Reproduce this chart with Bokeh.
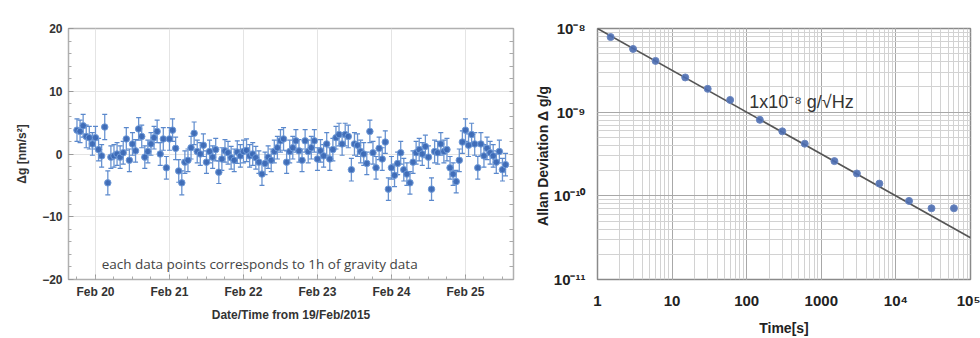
import pandas as pd
from bokeh.plotting import figure
from bokeh.layouts import row
from bokeh.models import (ColumnDataSource, Whisker, TeeHead, Range1d, FixedTicker,
                          LinearAxis, Label, DatetimeTickFormatter, CustomJSTickFormatter,
                          LogTicker)
from bokeh.embed import file_html
from bokeh.resources import INLINE

# ---------------- data: left panel (hourly gravity residuals) ----------------
start_time = "2015-02-19 18:00"
dg = [3.8, 3.6, 4.5, 2.8, 2.6, 1.6, 2.6, 0.7, -0.3, 4.3,
      -4.6, -0.5, -0.3, 0.0, -0.5, 0.2, 2.4, -1.0, 1.6, 0.5,
      4.0, 2.8, -0.5, 0.4, 1.6, 2.6, 3.6, 0.0, 2.4, -2.2,
      2.4, 3.8, 0.9, -2.7, -4.6, -1.3, -1.0, 1.0, 3.3, 0.4,
      0.0, 1.4, -1.3, 0.4, -0.5, 0.7, -2.9, -0.8, 0.5, 0.2,
      -0.6, -1.0, 0.3, -0.3, 0.4, 0.6, -0.3, 0.0, -0.6, -1.3,
      -3.2, -1.5, -0.5, -1.0, 0.4, 1.0, 2.1, 2.4, -1.3, 0.4,
      1.0, 2.1, 0.5, -1.0, 2.1, 0.4, 1.0, 2.1, -0.8, 0.5,
      -0.3, 1.6, -0.8, 0.7, 2.6, 3.1, 1.6, 3.1, 2.8, -2.5,
      1.6, 1.4, 0.4, 0.0, -1.5, 3.6, 0.2, -2.2, 0.9, -0.8,
      1.9, -5.6, -2.2, -3.4, -1.5, 0.2, -2.5, -3.2, -4.6, -1.3,
      0.2, 0.7, 0.0, 1.2, -0.5, -5.6, 0.4, 0.2, 1.6, 0.4,
      0.7, -2.2, -3.2, -4.4, -1.0, 1.9, 3.8, 1.4, 3.1, 1.6,
      -2.2, 1.6, -0.3, 0.9, 0.2, -0.3, -1.3, 0.4, -2.5, -1.7]
dg_err = [1.8, 1.8, 1.8, 1.8, 1.8, 1.8, 1.8, 1.8, 1.8, 2.0,
          1.9, 1.8, 1.8, 1.8, 1.8, 1.8, 1.8, 1.8, 1.8, 1.8,
          1.8, 1.8, 1.8, 1.8, 1.8, 1.8, 1.8, 1.8, 1.8, 1.8,
          1.8, 1.8, 1.8, 1.8, 1.9, 1.8, 1.8, 1.8, 1.8, 1.8,
          1.8, 1.8, 1.8, 1.8, 1.8, 1.8, 1.8, 1.8, 1.8, 1.8,
          1.8, 1.8, 1.8, 1.8, 1.8, 1.8, 1.8, 1.8, 1.8, 1.8,
          1.8, 1.8, 1.8, 1.8, 1.8, 1.8, 1.8, 1.8, 1.8, 1.8,
          1.8, 1.8, 1.8, 1.8, 1.8, 1.8, 1.8, 1.8, 1.8, 1.8,
          1.8, 1.8, 1.8, 1.8, 1.8, 1.8, 1.8, 1.8, 1.8, 1.8,
          1.8, 1.8, 1.8, 1.8, 1.8, 1.8, 1.8, 1.8, 1.8, 1.8,
          1.8, 1.8, 1.8, 1.8, 1.8, 1.8, 1.8, 1.8, 1.8, 1.8,
          1.8, 1.8, 1.8, 1.8, 1.8, 1.8, 1.8, 1.8, 1.8, 1.8,
          1.8, 1.8, 1.8, 1.8, 1.8, 1.8, 1.8, 1.8, 1.8, 1.8,
          1.8, 1.8, 1.8, 1.8, 1.8, 1.8, 1.8, 1.8, 1.8, 1.8]
day_ticks = ["2015-02-20", "2015-02-21", "2015-02-22", "2015-02-23", "2015-02-24", "2015-02-25"]
y_ticks_left = [-20, -10, 0, 10, 20]
y_minor_left = [-18, -16, -14, -12, -8, -6, -4, -2, 2, 4, 6, 8, 12, 14, 16, 18]

# ---------------- data: right panel (Allan deviation) ----------------
tau = [1.5, 3, 6, 15, 30, 60, 150, 300, 600, 1500, 3000, 6000, 15000, 30000, 60000]
adev = [7.9e-9, 5.7e-9, 4.1e-9, 2.6e-9, 1.9e-9, 1.4e-9, 8.1e-10, 5.9e-10, 4.2e-10,
        2.6e-10, 1.85e-10, 1.4e-10, 8.7e-11, 7.1e-11, 7.1e-11]
fit_tau = [1, 1e5]
fit_adev = [1e-8, 3.16e-11]

FONT = "Liberation Sans"

# ================= left figure =================
times = pd.date_range(start_time, periods=len(dg), freq="h")
src = ColumnDataSource(dict(
    t=times, v=dg,
    lo=[a - b for a, b in zip(dg, dg_err)],
    hi=[a + b for a, b in zip(dg, dg_err)],
))

p1 = figure(width=530, height=338, x_axis_type="datetime",
            x_range=Range1d(pd.Timestamp("2015-02-19 15:15"), pd.Timestamp("2015-02-25 15:35")),
            y_range=Range1d(-20, 20),
            output_backend="svg", toolbar_location=None,
            min_border_left=68, min_border_right=17, min_border_top=20, min_border_bottom=42)
p1.background_fill_color = "white"
p1.border_fill_color = "white"
p1.outline_line_color = "#b0b0b0"
p1.outline_line_width = 1.5

wh = Whisker(source=src, base="t", upper="hi", lower="lo",
             line_color="#5a88cc", line_width=1.3, line_alpha=0.9,
             upper_head=TeeHead(size=5, line_color="#5a88cc", line_width=1.2),
             lower_head=TeeHead(size=5, line_color="#5a88cc", line_width=1.2))
p1.add_layout(wh)
p1.scatter("t", "v", source=src, size=6.5, fill_color="#3a68b5", line_color="#6f9ad8",
           line_width=1, fill_alpha=0.95)

day_ms = [pd.Timestamp(d).value / 1e6 for d in day_ticks]
minor_ms = [pd.Timestamp(d).value / 1e6 for d in
            pd.date_range("2015-02-19 12:00", "2015-02-25 18:00", freq="6h")]
p1.xaxis.ticker = FixedTicker(ticks=day_ms, minor_ticks=minor_ms)
p1.xaxis.formatter = DatetimeTickFormatter(days="%b %d", months="%b %d", hours="%b %d")
p1.yaxis.ticker = FixedTicker(ticks=y_ticks_left, minor_ticks=y_minor_left)

for ax in (p1.xaxis[0], p1.yaxis[0]):
    ax.axis_line_color = "#b0b0b0"
    ax.major_tick_line_color = "#999999"
    ax.minor_tick_line_color = "#aaaaaa"
    ax.major_tick_in = 5
    ax.major_tick_out = 0
    ax.minor_tick_in = 3
    ax.minor_tick_out = 0
    ax.major_label_text_font = FONT
    ax.major_label_text_font_style = "bold"
    ax.major_label_text_font_size = "12px"
    ax.major_label_text_color = "#333333"
    ax.axis_label_text_font = FONT
    ax.axis_label_text_font_style = "bold"
    ax.axis_label_text_font_size = "12px"
    ax.axis_label_text_color = "#333333"

p1.xaxis.axis_label = "Date/Time from 19/Feb/2015"
p1.xaxis.major_label_standoff = 5
p1.xaxis.axis_label_standoff = 6
p1.yaxis.axis_label = "Δg [nm/s²]"
p1.yaxis.major_label_standoff = 6
p1.yaxis.axis_label_standoff = 10

# right-hand tick marks only (no labels): all ticks given as minor ticks
rax = LinearAxis(ticker=FixedTicker(ticks=[], minor_ticks=y_ticks_left + y_minor_left),
                 axis_line_color="#b0b0b0",
                 minor_tick_in=4, minor_tick_out=0,
                 major_tick_line_color=None, minor_tick_line_color="#aaaaaa")
p1.add_layout(rax, "right")

p1.xgrid.grid_line_color = "#e4e4e4"
p1.ygrid.grid_line_color = "#e4e4e4"

p1.add_layout(Label(x=pd.Timestamp("2015-02-20 02:00"), y=-17.6,
                    text="each data points corresponds to 1h of gravity data",
                    text_font="Open Sans", text_font_size="13.5px", text_color="#444444",
                    text_baseline="middle"))

# ================= right figure =================
p2 = figure(width=450, height=338, x_axis_type="log", y_axis_type="log",
            x_range=Range1d(1, 1e5), y_range=Range1d(1e-11, 1e-8),
            output_backend="svg", toolbar_location=None,
            min_border_left=67, min_border_right=10, min_border_top=28, min_border_bottom=50)
p2.outline_line_color = "#8a8a8a"
p2.outline_line_width = 1.5

p2.xaxis.ticker = LogTicker(desired_num_ticks=6, num_minor_ticks=10)
p2.yaxis.ticker = LogTicker(desired_num_ticks=4, num_minor_ticks=10)

sup_js = """
const sup = {"-":"\u207b","0":"\u2070","1":"\u00b9","2":"\u00b2","3":"\u00b3","4":"\u2074",
             "5":"\u2075","6":"\u2076","7":"\u2077","8":"\u2078","9":"\u2079"};
const e = Math.round(Math.log10(tick));
"""
p2.xaxis.formatter = CustomJSTickFormatter(code=sup_js + """
if (e <= 3) { return String(Math.round(Math.pow(10, e))); }
return "10" + String(e).split("").map(c => sup[c]).join("");
""")
p2.yaxis.formatter = CustomJSTickFormatter(code=sup_js + """
return "10" + String(e).split("").map(c => sup[c]).join("");
""")

for ax in (p2.xaxis[0], p2.yaxis[0]):
    ax.axis_line_color = None
    ax.major_tick_line_color = None
    ax.minor_tick_line_color = None
    ax.major_label_text_font = FONT
    ax.major_label_text_font_style = "bold"
    ax.major_label_text_font_size = "15px"
    ax.major_label_text_color = "#222222"
    ax.axis_label_text_font = FONT
    ax.axis_label_text_font_style = "bold"
    ax.axis_label_text_font_size = "14px"
    ax.axis_label_text_color = "#222222"

p2.xaxis.axis_label = "Time[s]"
p2.xaxis.major_label_standoff = 6
p2.xaxis.axis_label_standoff = 8
p2.yaxis.axis_label = "Allan Deviation  Δ g/g"
p2.yaxis.major_label_standoff = 6
p2.yaxis.axis_label_standoff = 0

p2.xgrid.grid_line_color = "#a8a8a8"
p2.ygrid.grid_line_color = "#a8a8a8"
p2.xgrid.minor_grid_line_color = "#d2d2d2"
p2.ygrid.minor_grid_line_color = "#d2d2d2"

p2.line(fit_tau, fit_adev, line_color="#555555", line_width=1.6)
p2.scatter(tau, adev, size=7, fill_color="#4a6cb0", line_color="#6a86c0", fill_alpha=0.9)

p2.add_layout(Label(x=108, y=1.33e-9, text="1x10\u207b\u2078 g/\u221aHz",
                    text_font=FONT, text_font_size="18px", text_color="#333333",
                    text_baseline="middle"))

layout = row(p1, p2, spacing=0)
open("out.html", "w", encoding="utf-8").write(file_html(layout, INLINE))
